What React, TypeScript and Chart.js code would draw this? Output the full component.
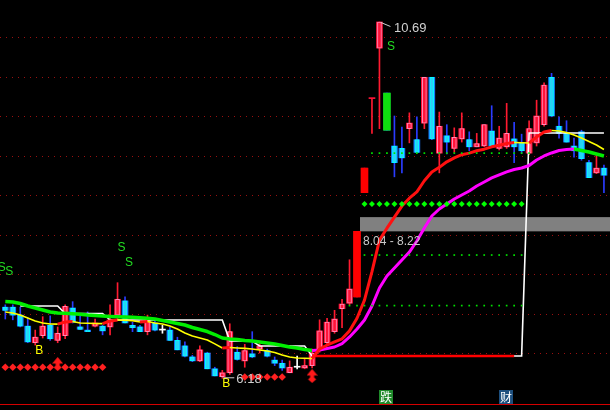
import React, { useEffect, useRef } from 'react';
import { Chart, registerables } from 'chart.js';

Chart.register(...registerables);

// ---- candles (daily K-line) ----
const opens = [7.08, 7.08, 6.98, 6.84, 6.63, 6.72, 6.85, 6.66, 6.72, 7.07, 6.83, 6.79, 6.84, 6.84, 6.83, 6.98, 7.16, 6.85, 6.83, 6.77,
  6.88, 6.79, 6.79, 6.66, 6.59, 6.45, 6.40, 6.50, 6.30, 6.20, 6.25, 6.51, 6.40, 6.49, 6.55, 6.53, 6.41, 6.37, 6.25, 6.32,
  6.31, 6.34, 6.54, 6.63, 6.77, 7.06, 7.13, 7.21, 8.53, 9.72, 10.36, 9.79, 9.12, 9.09, 9.34, 9.20, 9.41, 9.99, 9.03, 9.25,
  9.09, 9.21, 9.20, 9.11, 9.12, 9.31, 9.09, 9.11, 9.21, 9.16, 9.03, 9.16, 9.39, 9.99, 9.37, 9.28, 9.12, 9.30, 8.91, 8.78, 8.84];
const highs = [7.11, 7.11, 7.08, 6.94, 6.79, 6.96, 6.97, 6.83, 7.11, 7.15, 6.98, 7.02, 6.93, 6.85, 7.11, 7.39, 7.21, 6.89, 6.85, 6.98,
  6.91, 6.85, 6.83, 6.70, 6.64, 6.47, 6.59, 6.51, 6.32, 6.28, 6.87, 6.58, 6.61, 6.77, 6.65, 6.55, 6.45, 6.41, 6.40, 6.46,
  6.42, 6.55, 6.92, 6.94, 7.04, 7.18, 7.68, 8.04, 8.84, 9.72, 10.69, 9.79, 9.50, 9.36, 9.54, 9.49, 9.99, 9.99, 9.55, 9.39,
  9.35, 9.54, 9.30, 9.28, 9.39, 9.63, 9.37, 9.66, 9.42, 9.27, 9.44, 9.70, 9.92, 10.04, 9.49, 9.44, 9.22, 9.32, 8.94, 9.01, 8.88];
const lows = [6.93, 6.92, 6.83, 6.63, 6.60, 6.69, 6.66, 6.63, 6.68, 6.88, 6.80, 6.77, 6.83, 6.73, 6.73, 6.92, 6.88, 6.77, 6.77, 6.73,
  6.78, 6.75, 6.66, 6.54, 6.45, 6.39, 6.39, 6.30, 6.21, 6.18, 6.23, 6.41, 6.32, 6.44, 6.50, 6.45, 6.34, 6.28, 6.25, 6.30,
  6.30, 6.31, 6.51, 6.60, 6.75, 6.82, 7.11, 7.21, 8.53, 9.28, 9.34, 9.32, 8.73, 8.78, 9.16, 9.04, 9.34, 9.20, 8.78, 9.02,
  9.04, 9.17, 9.06, 9.11, 9.11, 9.11, 9.07, 9.09, 8.91, 9.03, 9.01, 9.12, 9.37, 9.49, 9.22, 9.17, 8.98, 8.94, 8.72, 8.77, 8.53];
const closes = [7.04, 6.98, 6.84, 6.64, 6.70, 6.84, 6.68, 6.75, 7.09, 6.89, 6.80, 6.77, 6.88, 6.78, 6.92, 7.18, 6.88, 6.82, 6.77, 6.93,
  6.79, 6.79, 6.66, 6.54, 6.46, 6.40, 6.54, 6.30, 6.21, 6.25, 6.77, 6.42, 6.53, 6.45, 6.59, 6.46, 6.37, 6.31, 6.32, 6.32,
  6.34, 6.50, 6.78, 6.89, 6.93, 7.12, 7.31, 8.04, 8.84, 9.72, 10.69, 9.32, 8.91, 8.97, 9.41, 9.04, 9.99, 9.21, 9.37, 9.17,
  9.23, 9.34, 9.11, 9.15, 9.39, 9.12, 9.22, 9.28, 9.11, 9.06, 9.34, 9.50, 9.89, 9.50, 9.28, 9.17, 9.06, 8.96, 8.72, 8.84, 8.75];

// ---- moving averages / stop line ----
const fastMA = [7.019, 7.006, 6.981, 6.943, 6.905, 6.880, 6.867, 6.866, 6.892, 6.899, 6.880, 6.876, 6.873, 6.872, 6.905, 6.918, 6.916, 6.908, 6.892, 6.899,
  6.880, 6.867, 6.842, 6.804, 6.754, 6.716, 6.691, 6.665, 6.615, 6.564, 6.570, 6.564, 6.558, 6.551, 6.539, 6.526, 6.506, 6.475, 6.449, 6.437,
  6.434, 6.430, 6.551, 6.600, 6.640, 6.680, 6.780, 6.940, 7.170, 7.530, 7.930, 8.080, 8.220, 8.360, 8.460, 8.540, 8.680, 8.790, 8.850, 8.920,
  8.970, 9.010, 9.030, 9.060, 9.080, 9.110, 9.130, 9.152, 9.165, 9.161, 9.158, 9.234, 9.297, 9.316, 9.310, 9.291, 9.259, 9.222, 9.177, 9.133, 9.076];
const slowMA = [7.152, 7.146, 7.127, 7.095, 7.070, 7.044, 7.019, 7.006, 7.003, 6.996, 6.991, 6.981, 6.975, 6.968, 6.962, 6.958, 6.956, 6.953, 6.946, 6.939,
  6.930, 6.911, 6.892, 6.873, 6.854, 6.823, 6.797, 6.772, 6.734, 6.690, 6.677, 6.671, 6.658, 6.652, 6.639, 6.627, 6.614, 6.595, 6.576, 6.563,
  6.544, 6.532, 6.538, 6.557, 6.576, 6.620, 6.703, 6.804, 6.918, 7.095, 7.323, 7.475, 7.576, 7.677, 7.778, 7.918, 8.082, 8.234, 8.323, 8.386,
  8.449, 8.500, 8.551, 8.614, 8.665, 8.716, 8.754, 8.792, 8.823, 8.842, 8.873, 8.943, 8.994, 9.032, 9.063, 9.076, 9.082, 9.063, 9.044, 9.019, 8.994];
const stopLine = [null, null, 7.095, 7.095, 7.095, 7.095, 7.095, 7.095, 7.00, 7.00, 7.00, 7.00, 7.00, 7.00, 6.918, 6.918, 6.918, 6.918, 6.918, 6.918,
  6.918, 6.918, 6.918, 6.918, 6.918, 6.918, 6.918, 6.918, 6.918, 6.918, 6.652, 6.652, 6.652, 6.652, 6.589, 6.589, 6.589, 6.589, 6.589, 6.589,
  6.589, 6.462, 6.462, 6.462, 6.462, 6.462, 6.462, 6.462, 6.462, 6.462, 6.462, 6.462, 6.462, 6.462, 6.462, 6.462, 6.462, 6.462, 6.462, 6.462,
  6.462, 6.462, 6.462, 6.462, 6.462, 6.462, 6.462, 6.462, 6.462, 6.462, 9.285, 9.285, 9.285, 9.285, 9.285, 9.285, 9.285, 9.285, 9.285, 9.285, 9.285];

const supportIdx = [41, 68];
const supportPrice = 6.462;

const solidIdx = [47, 48, 51];

const levelPrices = [9.03, 7.74, 7.10];
const levelFrom = [49, 48, 46];
const levelTo = [70, 69, 69];

const greenDiamondIdx = [48, 49, 50, 51, 52, 53, 54, 55, 56, 57, 58, 59, 60, 61, 62, 63, 64, 65, 66, 67, 68, 69];
const greenDiamondPrice = 8.386;

const redDotIdx = [0, 1, 2, 3, 4, 5, 6, 8, 9, 10, 11, 12, 13, 32, 33, 34, 35, 36, 37];
const redDotPrice = [6.32, 6.32, 6.32, 6.32, 6.32, 6.32, 6.32, 6.32, 6.32, 6.32, 6.32, 6.32, 6.32, 6.196, 6.196, 6.196, 6.196, 6.196, 6.196];

const arrowIdx = [7, 41];
const arrowPrice = [6.36, 6.21];

const sellIdx = [-1, 0, 15, 16, 51];
const sellPrice = [7.58, 7.53, 7.835, 7.646, 10.38];
const buyIdx = [4, 29];
const buyPrice = [6.532, 6.114];

const gridPrices = [10.5, 10.0, 9.5, 9.0, 8.5, 8.0, 7.5, 7.0, 6.5];

const gapFromIdx = 47;
const gapLow = 8.04;
const gapHigh = 8.22;

const highMarkIdx = 50;
const highMarkPrice = 10.69;
const lowMarkIdx = 29;
const lowMarkPrice = 6.18;

const tagIdx = [50, 66];
const tagText = ['跌', '财'];
const tagBg = ['#1f8a2a', '#1d4f7e'];

// ---- styles ----
const UP = '#ff1438';
const UP_IN = '#ff8ab8';
const DOWN = '#1a78ff';
const DOWN_IN = '#00ffff';
const DOWN_FILL = '#2ad2f5';
const WICK_UP = '#ff1a30';
const WICK_DOWN = '#2a3cff';
const FLAT = '#ffffff';

function dirOf(i: number): number {
  if (closes[i] > opens[i]) return 1;
  if (closes[i] < opens[i]) return -1;
  if (i === 0) return 0;
  return Math.sign(closes[i] - closes[i - 1]);
}

function makeArrow(color: string): HTMLCanvasElement {
  const c = document.createElement('canvas');
  c.width = 11;
  c.height = 14;
  const g = c.getContext('2d')!;
  g.fillStyle = color;
  g.beginPath();
  g.moveTo(5.5, 0);
  g.lineTo(11, 6.5);
  g.lineTo(7.5, 6.5);
  g.lineTo(7.5, 8.5);
  g.lineTo(9.5, 10.5);
  g.lineTo(5.5, 14);
  g.lineTo(1.5, 10.5);
  g.lineTo(3.5, 8.5);
  g.lineTo(3.5, 6.5);
  g.lineTo(0, 6.5);
  g.closePath();
  g.fill();
  return c;
}

export default function App() {
  const ref = useRef<HTMLCanvasElement>(null);

  useEffect(() => {
    const canvas = ref.current;
    if (!canvas) return;
    const idx = opens.map((_, i) => i);
    const rawX = (ctx: any) => (ctx && ctx.raw ? ctx.raw.x : 0);

    const overlay = {
      id: 'overlay',
      beforeDatasetsDraw(chart: any) {
        const { ctx, chartArea, scales } = chart;
        const x = scales.x;
        const y = scales.y;
        ctx.save();
        ctx.strokeStyle = '#9a1010';
        ctx.lineWidth = 1;
        ctx.setLineDash([1, 5]);
        gridPrices.forEach((p) => {
          const py = Math.round(y.getPixelForValue(p)) + 0.5;
          ctx.beginPath();
          ctx.moveTo(chartArea.left, py);
          ctx.lineTo(chartArea.right, py);
          ctx.stroke();
        });
        ctx.setLineDash([]);
        const bx = x.getPixelForValue(gapFromIdx) + 3;
        const by1 = y.getPixelForValue(gapHigh);
        const by2 = y.getPixelForValue(gapLow);
        ctx.fillStyle = '#808080';
        ctx.fillRect(bx, by1, chartArea.right - bx, by2 - by1);
        ctx.strokeStyle = '#d40000';
        ctx.lineWidth = 1;
        ctx.beginPath();
        ctx.moveTo(chartArea.left, chartArea.bottom - 5.5);
        ctx.lineTo(chartArea.right, chartArea.bottom - 5.5);
        ctx.stroke();
        ctx.restore();
      },
      afterDatasetsDraw(chart: any) {
        const { ctx, chartArea, scales } = chart;
        const x = scales.x;
        const y = scales.y;
        ctx.save();
        ctx.textAlign = 'left';
        ctx.textBaseline = 'middle';
        ctx.font = '12px "Liberation Sans", Arial, sans-serif';
        ctx.fillStyle = '#22dd22';
        sellIdx.forEach((k, j) => ctx.fillText('S', x.getPixelForValue(k), y.getPixelForValue(sellPrice[j])));
        ctx.fillStyle = '#ffff00';
        buyIdx.forEach((k, j) => ctx.fillText('B', x.getPixelForValue(k), y.getPixelForValue(buyPrice[j])));

        // gap band text
        const bx = x.getPixelForValue(gapFromIdx) + 3;
        const by2 = y.getPixelForValue(gapLow);
        ctx.fillStyle = '#c8c8c8';
        ctx.fillText(`${gapLow.toFixed(2)} - ${gapHigh.toFixed(2)}`, bx + 3, by2 + 10);

        // high label
        ctx.font = '13px "Liberation Sans", Arial, sans-serif';
        const hx = x.getPixelForValue(highMarkIdx);
        const hy = y.getPixelForValue(highMarkPrice);
        ctx.strokeStyle = '#d0d0d0';
        ctx.lineWidth = 1;
        ctx.beginPath();
        ctx.moveTo(hx + 1.5, hy + 0.5);
        ctx.lineTo(hx + 11, hy + 4.5);
        ctx.stroke();
        ctx.fillStyle = '#d0d0d0';
        ctx.fillText(highMarkPrice.toFixed(2), hx + 14.5, hy + 6);

        // low label
        const lx = x.getPixelForValue(lowMarkIdx);
        const ly = y.getPixelForValue(lowMarkPrice);
        ctx.beginPath();
        ctx.moveTo(lx + 1, ly - 0.5);
        ctx.lineTo(lx + 12, ly - 0.5);
        ctx.stroke();
        ctx.fillText(lowMarkPrice.toFixed(2), lx + 14, ly + 1);

        // bottom tags
        ctx.font = '12px "Noto Sans CJK SC", sans-serif';
        ctx.textAlign = 'center';
        tagIdx.forEach((k, j) => {
          const tx = Math.round(x.getPixelForValue(k));
          const ty = chartArea.bottom - 20;
          ctx.fillStyle = tagBg[j];
          ctx.fillRect(tx, ty, 14, 14);
          ctx.fillStyle = '#ffffff';
          ctx.fillText(tagText[j], tx + 7, ty + 7.5);
        });
        ctx.restore();
      },
    };

    const bodyColor = (ctx: any) => {
      const d = dirOf(rawX(ctx));
      return d > 0 ? UP : d < 0 ? DOWN : FLAT;
    };

    const nonFlat = idx.filter((i) => opens[i] !== closes[i] && !solidIdx.includes(i));

    const levelPoints: any[] = [];
    levelPrices.forEach((p, k) => {
      for (let i = levelFrom[k]; i <= levelTo[k]; i++) levelPoints.push({ x: i, y: p });
    });

    const chart = new Chart(canvas, {
      type: 'bar',
      data: {
        datasets: [
          {
            type: 'bar',
            data: idx.map((i) => ({ x: i, y: [lows[i], highs[i]] })),
            backgroundColor: (ctx: any) => {
              const d = dirOf(rawX(ctx));
              return d > 0 ? WICK_UP : d < 0 ? WICK_DOWN : FLAT;
            },
            barThickness: 1,
            grouped: false,
            order: 10,
          } as any,
          {
            type: 'bar',
            data: idx.map((i) => ({ x: i, y: [Math.min(opens[i], closes[i]), Math.max(opens[i], closes[i])] })),
            backgroundColor: bodyColor,
            barThickness: 6,
            minBarLength: 1,
            grouped: false,
            order: 9,
          } as any,
          {
            type: 'bar',
            data: nonFlat.map((i) => ({ x: i, y: [Math.min(opens[i], closes[i]), Math.max(opens[i], closes[i])] })),
            backgroundColor: (ctx: any) => (dirOf(rawX(ctx)) > 0 ? UP : DOWN_FILL),
            borderColor: (ctx: any) => (dirOf(rawX(ctx)) > 0 ? UP_IN : DOWN_IN),
            borderWidth: 1,
            borderSkipped: false,
            barThickness: 4,
            grouped: false,
            order: 8,
          } as any,
          {
            type: 'bar',
            data: solidIdx.map((i) => ({ x: i, y: [Math.min(opens[i], closes[i]), Math.max(opens[i], closes[i])] })),
            backgroundColor: (ctx: any) => (dirOf(rawX(ctx)) > 0 ? '#ff0000' : '#0fe00f'),
            barThickness: 7,
            grouped: false,
            order: 7,
          } as any,
          {
            type: 'line',
            data: stopLine.map((v, i) => ({ x: i, y: v })),
            borderColor: '#ffffff',
            borderWidth: 1.6,
            pointRadius: 0,
            tension: 0,
            order: 6,
          } as any,
          {
            type: 'line',
            data: [
              { x: supportIdx[0], y: supportPrice },
              { x: supportIdx[1], y: supportPrice },
            ],
            borderColor: '#ff0000',
            borderWidth: 2.5,
            pointRadius: 0,
            order: 5,
          } as any,
          {
            type: 'line',
            data: slowMA.map((v, i) => ({ x: i, y: v })),
            borderColor: '#00ff00',
            borderWidth: 3.5,
            pointRadius: 0,
            tension: 0,
            borderJoinStyle: 'round',
            segment: {
              borderColor: (c: any) => (c.p1.parsed.y > c.p0.parsed.y ? '#ff00ff' : '#00ee00'),
              borderWidth: (c: any) => (c.p1.parsed.y > c.p0.parsed.y ? 3 : 3.5),
            },
            order: 4,
          } as any,
          {
            type: 'line',
            data: fastMA.map((v, i) => ({ x: i, y: v })),
            borderColor: '#ffff00',
            borderWidth: 1.5,
            pointRadius: 0,
            tension: 0,
            borderJoinStyle: 'round',
            segment: {
              borderColor: (c: any) => (c.p1.parsed.y > c.p0.parsed.y ? '#ff1010' : '#ffff00'),
              borderWidth: (c: any) => (c.p1.parsed.y > c.p0.parsed.y ? 3 : 1.6),
            },
            order: 3,
          } as any,
          {
            type: 'line',
            data: levelPoints,
            showLine: false,
            pointStyle: 'rect',
            pointRadius: 1.2,
            pointBackgroundColor: '#00e000',
            pointBorderWidth: 0,
            order: 2,
          } as any,
          {
            type: 'line',
            data: greenDiamondIdx.map((i) => ({ x: i, y: greenDiamondPrice })),
            showLine: false,
            pointStyle: 'rectRot',
            pointRadius: 3,
            pointBackgroundColor: '#00ff00',
            pointBorderWidth: 0,
            order: 1,
          } as any,
          {
            type: 'line',
            data: redDotIdx.map((i, j) => ({ x: i, y: redDotPrice[j] })),
            showLine: false,
            pointStyle: 'rectRot',
            pointRadius: 3.8,
            pointBackgroundColor: '#ff2020',
            pointBorderWidth: 0,
            order: 1,
          } as any,
          {
            type: 'line',
            data: arrowIdx.map((i, j) => ({ x: i, y: arrowPrice[j] })),
            showLine: false,
            pointStyle: makeArrow('#ff1a1a'),
            pointRadius: 6,
            order: 1,
          } as any,
        ],
      },
      options: {
        responsive: false,
        animation: false,
        devicePixelRatio: 1,
        events: [],
        layout: { padding: 0, autoPadding: false },
        plugins: { legend: { display: false }, tooltip: { enabled: false } },
        scales: {
          x: { type: 'linear', min: -0.7083, max: 80.81, offset: false, display: false },
          y: { type: 'linear', min: 5.7785, max: 10.9684, display: false },
        },
      } as any,
      plugins: [overlay],
    } as any);

    return () => chart.destroy();
  }, []);

  return (
    <div style={{ position: 'fixed', left: 0, top: 0, width: 610, height: 410, background: '#000', overflow: 'hidden' }}>
      <canvas ref={ref} width={610} height={410} style={{ display: 'block', width: 610, height: 410 }} />
    </div>
  );
}
